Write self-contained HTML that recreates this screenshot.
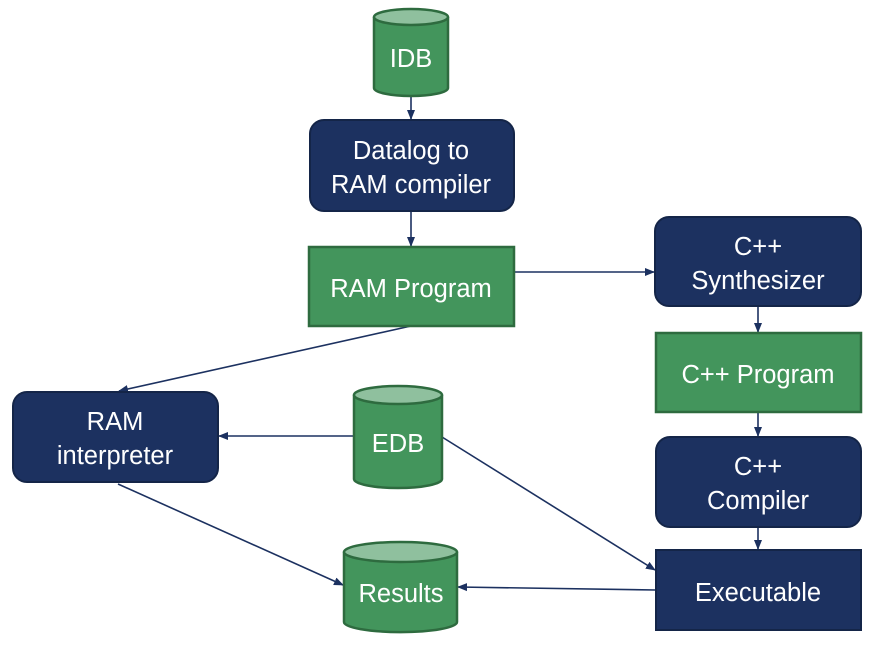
<!DOCTYPE html>
<html><head><style>
body{margin:0;background:#fff;}
svg text{font-family:"Liberation Sans",sans-serif;fill:#fff;font-size:25.5px;text-anchor:middle;}
</style></head><body>
<svg width="877" height="642" viewBox="0 0 877 642">
<defs>
<marker id="a" markerWidth="10" markerHeight="10" refX="9" refY="5" orient="auto" markerUnits="userSpaceOnUse">
<path d="M0,1 L10,5 L0,9 Z" fill="#1c3160"/></marker>
</defs>
<g stroke="#1c3160" stroke-width="1.6" fill="none" marker-end="url(#a)">
<line x1="411" y1="96" x2="411" y2="119"/>
<line x1="411" y1="211" x2="411" y2="246"/>
<line x1="514" y1="272" x2="654" y2="272"/>
<line x1="758" y1="306" x2="758" y2="332"/>
<line x1="758" y1="412" x2="758" y2="436"/>
<line x1="758" y1="527" x2="758" y2="549"/>
<line x1="411" y1="326" x2="119" y2="391"/>
<line x1="354" y1="436" x2="219" y2="436"/>
<line x1="442" y1="437" x2="655" y2="570"/>
<line x1="118" y1="484" x2="343" y2="585"/>
<line x1="656" y1="590" x2="458" y2="587"/>
</g>
<g stroke="#2e6b3f" stroke-width="2.5">
<path d="M374,17 L374,88 A37,8 0 0 0 448,88 L448,17" fill="#43955c"/>
<ellipse cx="411" cy="17" rx="37" ry="8" fill="#8fc09e"/>
<path d="M354,395 L354,479 A44,9 0 0 0 442,479 L442,395" fill="#43955c"/>
<ellipse cx="398" cy="395" rx="44" ry="9" fill="#8fc09e"/>
<path d="M344,552 L344,622 A56,10 0 0 0 457,622 L457,552" fill="#43955c"/>
<ellipse cx="400.5" cy="552" rx="56.5" ry="10" fill="#8fc09e"/>
<rect x="309" y="247" width="205" height="79" fill="#43955c"/>
<rect x="656" y="333" width="205" height="79" fill="#43955c"/>
</g>
<g fill="#1c3160" stroke="#142548" stroke-width="2">
<rect x="310" y="120" width="204" height="91" rx="14"/>
<rect x="655" y="217" width="206" height="89" rx="14"/>
<rect x="656" y="437" width="205" height="90" rx="14"/>
<rect x="13" y="392" width="205" height="90" rx="14"/>
<rect x="656" y="550" width="205" height="80"/>
</g>
<text x="411" y="67">IDB</text>
<text x="411" y="159">Datalog to</text>
<text x="411" y="193">RAM compiler</text>
<text x="411" y="297">RAM Program</text>
<text x="758" y="255">C++</text>
<text x="758" y="289">Synthesizer</text>
<text x="758" y="383">C++ Program</text>
<text x="758" y="475">C++</text>
<text x="758" y="509">Compiler</text>
<text x="758" y="601">Executable</text>
<text x="115" y="430">RAM</text>
<text x="115" y="464">interpreter</text>
<text x="398" y="452">EDB</text>
<text x="401" y="602">Results</text>
</svg>
</body></html>
